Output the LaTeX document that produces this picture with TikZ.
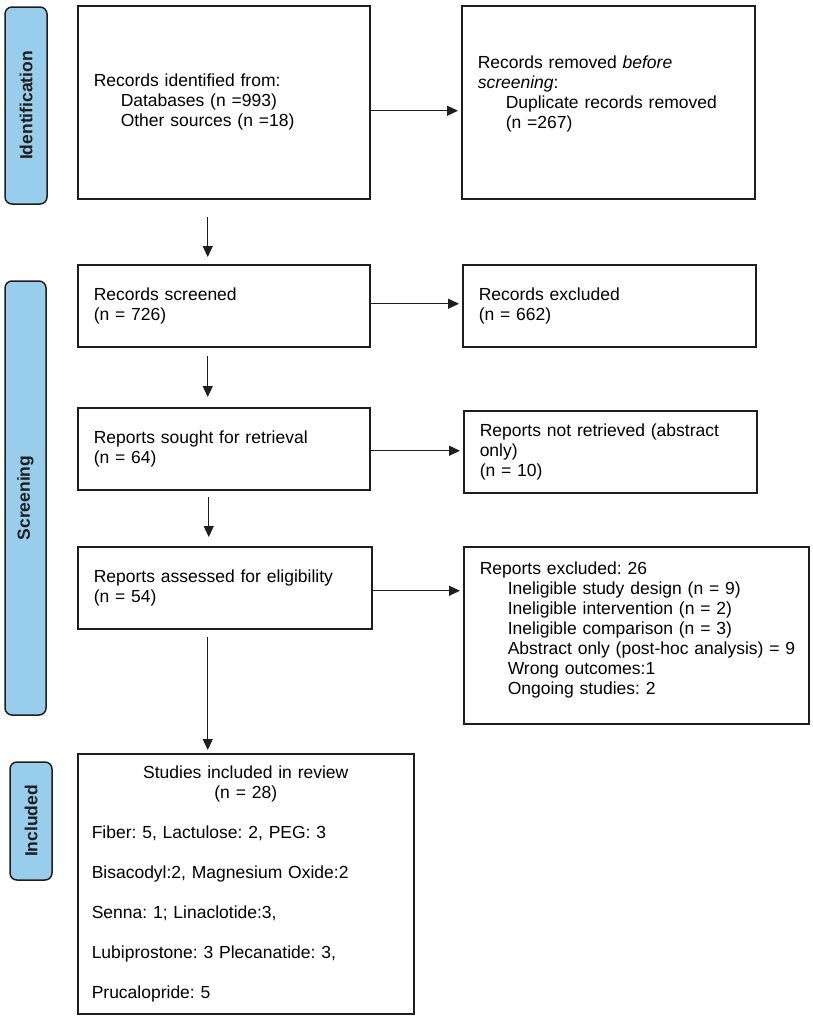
\documentclass[tikz,border=0pt]{standalone}
\usepackage{fontspec}
\setmainfont{Liberation Sans}
\usetikzlibrary{arrows.meta}
\definecolor{barblue}{RGB}{152,206,236}
\definecolor{lineblk}{RGB}{30,30,30}
\frenchspacing
\begin{document}
\begin{tikzpicture}[x=1pt,y=-1pt,
  box/.style={draw=lineblk, line width=1.5pt, fill=white, inner xsep=16pt, inner ysep=0pt,
    align=left, anchor=north west, font=\fontsize{17.5pt}{20pt}\selectfont\frenchspacing, text=black},
  bar/.style={draw=lineblk, line width=1.5pt, fill=barblue, rounded corners=7pt, inner sep=0pt,
    font=\fontsize{17.5pt}{20pt}\selectfont\bfseries, text=lineblk, rotate=90},
  arr/.style={draw=lineblk, line width=1.1pt, -{Triangle[length=11pt,width=10pt]}}
]
\useasboundingbox (0,0) rectangle (813,1017);

% phase bars
\node[bar, minimum width=197pt, minimum height=42pt] (idbar) at (26,105.5) {Identification};
\node[bar, minimum width=434pt, minimum height=41pt] (scbar) at (25.5,498) {Screening};
\node[bar, minimum width=118pt, minimum height=42pt] (inbar) at (31,821) {Included};

% boxes
\node[box, minimum width=292pt, minimum height=193pt, text width=260pt] (ident) at (77,5)
  {Records identified from:\\ \hspace*{27pt}Databases (n =993)\\ \hspace*{27pt}Other sources (n =18)};
\node[box, minimum width=293pt, minimum height=193pt, text width=261pt] (removed) at (461,5)
  {Records removed \textit{before}\\ \textit{screening}:\\ \hspace*{28pt}Duplicate records removed\\ \hspace*{28pt}(n =267)\\ \mbox{}};
\node[box, minimum width=292pt, minimum height=82pt, text width=260pt] (screened) at (77,264)
  {Records screened\\ (n = 726)};
\node[box, minimum width=293pt, minimum height=82pt, text width=261pt] (excluded) at (462,264)
  {Records excluded\\ (n = 662)};
\node[box, minimum width=292pt, minimum height=82pt, text width=260pt] (sought) at (77,407)
  {Reports sought for retrieval\\ (n = 64)};
\node[box, minimum width=293pt, minimum height=82pt, text width=261pt] (notretr) at (463,410)
  {Reports not retrieved (abstract\\ only)\\ (n = 10)};
\node[box, minimum width=294pt, minimum height=82pt, text width=262pt] (assessed) at (77,546)
  {Reports assessed for eligibility\\ (n = 54)};
\node[box, minimum width=345pt, minimum height=177pt, text width=313pt] (repexcl) at (463,546)
  {Reports excluded: 26\\
   \hspace*{28pt}Ineligible study design (n = 9)\\
   \hspace*{28pt}Ineligible intervention (n = 2)\\
   \hspace*{28pt}Ineligible comparison (n = 3)\\
   \mbox{\hspace*{28pt}Abstract only (post-hoc analysis) = 9}\\
   \hspace*{28pt}Wrong outcomes:1\\
   \hspace*{28pt}Ongoing studies: 2\\[-5pt] \mbox{}};
\node[box, inner xsep=14pt, minimum width=336pt, minimum height=260pt, text width=308pt] (studies) at (77,753)
  {\makebox[308pt][c]{Studies included in review}\\
   \makebox[308pt][c]{(n = 28)}\\[20pt]
   Fiber: 5, Lactulose: 2, PEG: 3\\[20pt]
   Bisacodyl:2, Magnesium Oxide:2\\[20pt]
   Senna: 1; Linaclotide:3,\\[20pt]
   Lubiprostone: 3 Plecanatide: 3,\\[20pt]
   Prucalopride: 5};

% vertical arrows
\draw[arr, shorten <=17pt, shorten >=7pt] ([xshift=-16pt]ident.south) -- ([xshift=-16pt]ident.south |- screened.north);
\draw[arr, shorten <=8pt, shorten >=10pt] ([xshift=-16pt]screened.south) -- ([xshift=-16pt]screened.south |- sought.north);
\draw[arr, shorten <=6pt, shorten >=9pt] ([xshift=-15pt]sought.south) -- ([xshift=-15pt]sought.south |- assessed.north);
\draw[arr, shorten <=7pt, shorten >=3pt] ([xshift=-17pt]assessed.south) -- ([xshift=-17pt]assessed.south |- studies.north);

% horizontal arrows
\draw[arr, shorten >=3pt] ([yshift=-8.5pt]ident.east) -- ([yshift=-8.5pt]ident.east -| removed.west);
\draw[arr, shorten >=3pt] ([yshift=2pt]screened.east) -- ([yshift=2pt]screened.east -| excluded.west);
\draw[arr, shorten >=3pt] ([yshift=-2pt]sought.east) -- ([yshift=-2pt]sought.east -| notretr.west);
\draw[arr, shorten >=3pt] ([yshift=-3pt]assessed.east) -- ([yshift=-3pt]assessed.east -| repexcl.west);
\end{tikzpicture}
\end{document}
